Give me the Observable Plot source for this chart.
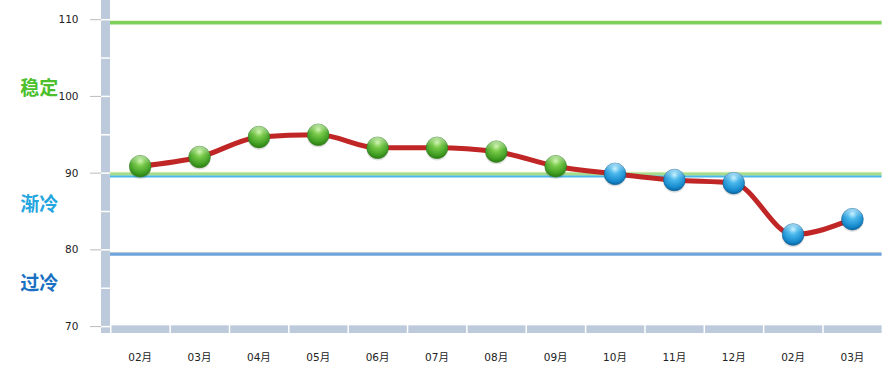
<!DOCTYPE html>
<html>
<head>
<meta charset="utf-8">
<script src="https://cdn.jsdelivr.net/npm/d3@7"></script>
<script src="https://cdn.jsdelivr.net/npm/@observablehq/plot@0.6"></script>
<style>
  html, body { margin: 0; padding: 0; background: #fff; }
  #chart svg { display: block; }
</style>
</head>
<body>
<div id="chart"></div>
<script>
// Data
const months = ["02月","03月","04月","05月","06月","07月","08月","09月","10月","11月","12月","02月","03月"];
const values = [90.9, 92.1, 94.7, 95.0, 93.3, 93.3, 92.8, 90.9, 89.9, 89.1, 88.7, 82.0, 84.0];
const yTicks = [70, 80, 90, 100, 110];
const threshold = 90;
// Reference lines (value, colour, width)
const refLines = [
  {v: 109.63, c: "#7ccf5a", w: 4},
  {v: 89.9,  c: "#a5dc8e", w: 3.5},
  {v: 89.55, c: "#4cb8ea", w: 2},
  {v: 79.46, c: "#6fa4dc", w: 3.5}
];
const zoneLabels = [
  {t: "稳定", v: 101.0, c: "#4cc02c"},
  {t: "渐冷", v: 85.9,  c: "#23a5e0"},
  {t: "过冷", v: 75.6,  c: "#1a70c2"}
];

const data = months.map((m, i) => ({i, m, v: values[i]}));
const yMin = 69.1, yMax = 112.5;
const xLeft = -0.652;
const px = 1 / 59.35;
const bandColor = "#bccadb";
const sep = d3.range(70, 111, 5);

const plot = Plot.plot({
  width: 895,
  height: 382,
  marginTop: 0,
  marginBottom: 49,
  marginLeft: 101,
  marginRight: 13.4,
  style: {fontFamily: "DejaVu Sans, sans-serif", background: "#fff"},
  x: {domain: [xLeft, 12.5], axis: null},
  y: {domain: [yMin, yMax], axis: null},
  marks: [
    // left 3D axis band
    Plot.rectY([0], {x1: xLeft, x2: -0.5, y1: yMin, y2: yMax, fill: bandColor}),
    Plot.ruleY(sep, {x1: xLeft, x2: -0.5, stroke: "#fff", strokeWidth: 1.5}),
    // bottom band per category
    Plot.rectY(data, {x1: d => d.i - 0.5, x2: d => d.i + 0.5, y1: yMin, y2: 70.1, fill: bandColor, insetLeft: 1.5, insetRight: 0}),
    // y ticks
    Plot.ruleY(yTicks, {y: d => d, x1: xLeft - 11 * px, x2: xLeft, stroke: "#bbbbbb", strokeWidth: 1}),
    Plot.text(yTicks, {x: xLeft - 23 * px, y: d => d, text: d => String(d), textAnchor: "end", fontSize: 10.5, fill: "#222"}),
    // x labels
    Plot.text(data, {x: "i", y: yMin, text: "m", dy: 24, fontSize: 10.5, fill: "#222", fontFamily: "DejaVu Sans, Noto Sans CJK SC, sans-serif"}),
    // reference lines
    Plot.ruleY(refLines, {y: "v", x1: -0.5, x2: 12.5, stroke: "c", strokeWidth: "w"}),
    Plot.ruleY(refLines.filter(d => d.w > 3), {y: "v", x1: -0.5, x2: 12.5, stroke: "#fffbe0", strokeOpacity: 0.9, strokeWidth: 1, dy: -2.2}),
    // zone labels
    Plot.text(zoneLabels, {x: -1.7, y: "v", text: "t", fill: "c", fontSize: 19, fontWeight: "bold", fontFamily: "Noto Sans CJK SC, sans-serif"}),
    // series line
    Plot.line(data, {x: "i", y: "v", curve: "monotone-x", stroke: "#c02626", strokeWidth: 5}),
    // balls
    Plot.dot(data, {x: "i", y: "v", r: 11.2, fill: "#000", fillOpacity: 0.12, dy: 1.5}),
    Plot.dot(data.filter(d => d.v >= threshold), {x: "i", y: "v", r: 10.8, fill: "url(#gGreen)", stroke: "#2f7e16", strokeWidth: 0.6}),
    Plot.dot(data.filter(d => d.v < threshold), {x: "i", y: "v", r: 10.8, fill: "url(#gBlue)", stroke: "#0b5f96", strokeWidth: 0.6}),
    Plot.dot(data, {x: "i", y: "v", r: 10.8, fill: "url(#gShine)"})
  ]
});

const defs = `
<defs>
  <radialGradient id="gGreen" cx="50%" cy="40%" r="60%" fx="50%" fy="25%">
    <stop offset="0%" stop-color="#c2f29a"/>
    <stop offset="35%" stop-color="#6cc43a"/>
    <stop offset="80%" stop-color="#3a9a1c"/>
    <stop offset="100%" stop-color="#2b7a12"/>
  </radialGradient>
  <radialGradient id="gBlue" cx="50%" cy="40%" r="60%" fx="50%" fy="25%">
    <stop offset="0%" stop-color="#b8ecff"/>
    <stop offset="35%" stop-color="#3cb2ea"/>
    <stop offset="80%" stop-color="#1087cc"/>
    <stop offset="100%" stop-color="#0a64a0"/>
  </radialGradient>
  <linearGradient id="gShine" x1="0" y1="0" x2="0" y2="1">
    <stop offset="0%" stop-color="#fff" stop-opacity="0.55"/>
    <stop offset="40%" stop-color="#fff" stop-opacity="0.08"/>
    <stop offset="100%" stop-color="#fff" stop-opacity="0"/>
  </linearGradient>
</defs>`;
plot.insertAdjacentHTML("afterbegin", defs);
document.getElementById("chart").appendChild(plot);
</script>
</body>
</html>
